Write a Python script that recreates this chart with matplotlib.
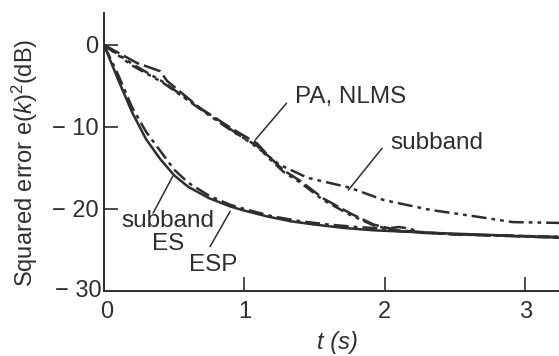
import matplotlib
matplotlib.use("Agg")
import matplotlib.pyplot as plt

plt.rcParams['font.family'] = ['Liberation Sans', 'DejaVu Sans']
plt.rcParams['mathtext.fontset'] = 'custom'
plt.rcParams['mathtext.rm'] = 'Liberation Sans'
plt.rcParams['mathtext.it'] = 'Liberation Sans:italic'

INK = '#2e2e2e'

# squared error curves (t in s, error in dB)
t_es = [0, 0.1, 0.2, 0.3, 0.4, 0.5, 0.6, 0.75, 0.9, 1.0, 1.16, 1.33,
        1.5, 1.7, 1.92, 2.32, 2.8, 3.24]
e_es = [0, -4.2, -8.2, -11.5, -13.9, -15.9, -17.3, -18.7, -19.7, -20.2,
        -20.9, -21.5, -21.9, -22.3, -22.6, -22.9, -23.2, -23.5]

t_esp = [0, 0.1, 0.2, 0.3, 0.4, 0.5, 0.6, 0.75, 0.9, 1.0, 1.2, 1.4, 1.6,
         1.8, 2.0, 2.1, 2.18, 2.25, 2.5, 3.24]
e_esp = [0, -3.6, -7.6, -10.6, -12.9, -15.2, -16.8, -18.4, -19.5, -20.0,
         -20.9, -21.5, -21.9, -22.2, -22.4, -22.2, -22.4, -22.9, -23.1, -23.5]

t_pa = [0, 0.2, 0.42, 0.7, 0.92, 1.09, 1.18, 1.28, 1.4, 1.56, 1.75, 1.92,
        2.09, 2.5, 3.24]
e_pa = [0, -2.5, -4.6, -8.0, -10.6, -12.3, -13.9, -15.5, -16.8, -18.9,
        -20.7, -22.0, -22.7, -23.1, -23.4]

t_nlms = [0, 0.235, 0.4, 0.45, 0.684, 0.92, 1.09, 1.18, 1.28, 1.4, 1.56,
          1.75, 1.92, 2.09, 2.5, 3.24]
e_nlms = [0, -2.2, -3.2, -4.4, -7.7, -10.3, -12.0, -13.7, -15.3, -16.6,
          -18.7, -20.5, -21.9, -22.6, -23.1, -23.4]

t_sub = [0, 0.2, 0.42, 0.7, 0.92, 1.1, 1.25, 1.45, 1.75, 1.99, 2.32,
         2.68, 2.91, 3.24]
e_sub = [0, -2.3, -4.5, -7.9, -10.5, -12.6, -14.6, -16.2, -17.4, -18.9,
         -20.1, -21.0, -21.6, -21.7]

fig = plt.figure(figsize=(5.59, 3.56), dpi=100)
ax = fig.add_axes([0.186, 0.1826, 0.814, 0.781])

lw = 1.8
ax.plot(t_es, e_es, color=INK, lw=lw, ls='-')
ax.plot(t_esp, e_esp, color=INK, lw=lw, ls=(0, (6, 2, 1.5, 2)))
ax.plot(t_pa, e_pa, color=INK, lw=lw, ls=(0, (5, 2, 1.5, 2, 1.5, 2)))
ax.plot(t_nlms, e_nlms, color=INK, lw=lw, ls=(0, (7, 2)))
ax.plot(t_sub, e_sub, color=INK, lw=lw, ls=(0, (6, 2, 1.5, 2, 1.5, 2)))

ax.set_xlim(0, 3.24)
ax.set_ylim(-30, 3.9)
ax.set_xticks([1, 2, 3])
ax.set_yticks([0, -10, -20])
ax.set_yticklabels(['0', '\u2212 10', '\u2212 20'])
ax.tick_params(direction='in', length=10, width=1.2, color=INK,
               labelcolor=INK, labelsize=17, pad=4)
ax.tick_params(axis='x', pad=7)
for s in ['top', 'right']:
    ax.spines[s].set_visible(False)
for s in ['left', 'bottom']:
    ax.spines[s].set_color(INK)
    ax.spines[s].set_linewidth(1.4)

# corner labels sharing the origin
ax.text(-0.02, -30, '\u2212 30', ha='right', va='center', fontsize=17,
        color=INK)
ax.text(0.02, -31.2, '0', ha='center', va='top', fontsize=17, color=INK)

ax.set_ylabel('Squared error e($k$)$^2$(dB)', fontsize=17, color=INK)
ax.yaxis.set_label_coords(-0.14, 0.46)
ax.set_xlabel('t (s)', fontsize=17, color=INK, style='italic')
ax.xaxis.set_label_coords(0.512, -0.145)

arrow = dict(arrowstyle='-', color=INK, lw=1.1, shrinkA=0, shrinkB=0)
ax.annotate('', xy=(1.076, -11.6), xytext=(1.30, -7.1), arrowprops=arrow)
ax.text(1.36, -6.3, 'PA, NLMS', fontsize=17.5, color=INK, va='center')
ax.annotate('', xy=(1.74, -17.7), xytext=(1.98, -12.6), arrowprops=arrow)
ax.text(2.04, -11.95, 'subband', fontsize=17.5, color=INK, va='center')
ax.annotate('', xy=(0.49, -16.0), xytext=(0.35, -20.5), arrowprops=arrow)
ax.text(0.456, -22.9, 'subband\nES', fontsize=17.5, color=INK, ha='center',
        va='center', linespacing=1.05)
ax.annotate('', xy=(0.898, -20.3), xytext=(0.755, -24.6), arrowprops=arrow)
ax.text(0.777, -26.8, 'ESP', fontsize=17.5, color=INK, ha='center',
        va='center')

fig.savefig('out.png', dpi=100)
